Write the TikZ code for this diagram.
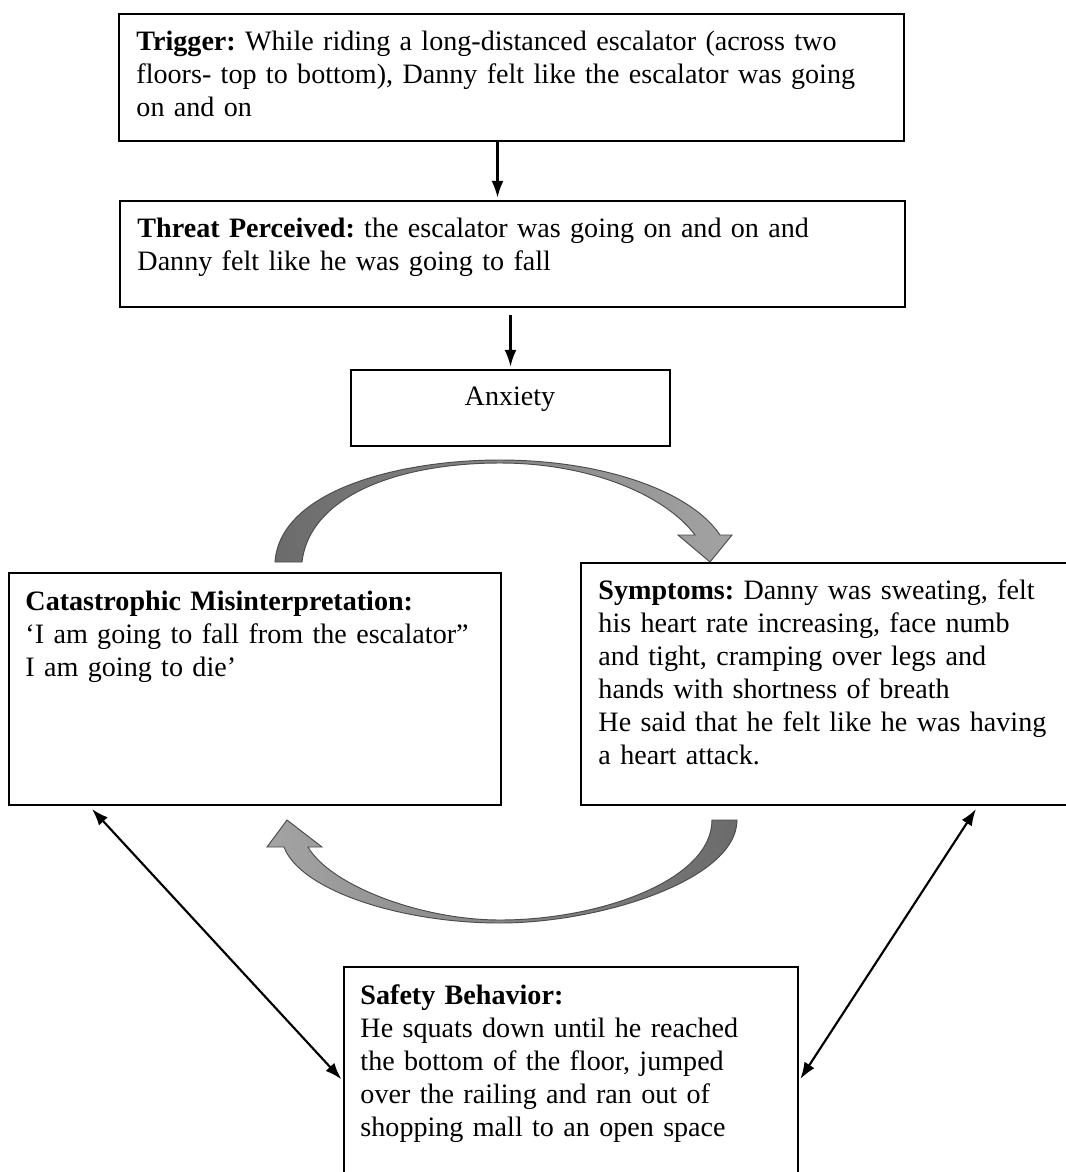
\documentclass[tikz,border=0pt]{standalone}
\usepackage{fontspec}
\setmainfont{Liberation Serif}
\usetikzlibrary{fit,arrows.meta}
\frenchspacing

\begin{document}
\begin{tikzpicture}[x=0.42pt,y=-0.42pt,shorten >=1pt,>={Latex[length=7pt,width=5pt]}]
  \tikzset{frame/.style={draw,rectangle,line width=0.85pt,inner sep=0pt}}
  \tikzset{txt/.style={inner sep=0pt,anchor=base west,align=left,text width=330pt,font=\fontsize{11.8pt}{13.9pt}\selectfont}}
  \tikzset{link/.style={line width=0.9pt}}
  \tikzset{fat/.style={draw=black!70,line width=0.4pt}}
  \useasboundingbox[fill=white] (0,0) rectangle (1065,1172);
  % boxes
  \node[frame,fit={(119,14) (904,141)}] (trig) {};
  \node[frame,fit={(120,201) (905,307)}] (threat) {};
  \node[frame,fit={(351,370) (670,446)}] (anx) {};
  \node[frame,fit={(9,573) (501,805)}] (cata) {};
  \node[frame,fit={(581,563) (1068,805)}] (symp) {};
  \node[frame,fit={(344,967) (798,1190)}] (safe) {};
  % texts
  \node[txt] (trigT) at (136,50) {\textbf{Trigger:} While riding a long-distanced escalator (across two\\floors- top to bottom), Danny felt like the escalator was going\\on and on};
  \node[txt] (threatT) at (137,237) {\textbf{Threat Perceived:} the escalator was going on and on and\\Danny felt like he was going to fall};
  \node[inner sep=0pt,anchor=base,font=\fontsize{11.8pt}{13.9pt}\selectfont] (anxT) at (510,405) {Anxiety};
  \node[txt] (cataT) at (25,610) {\textbf{Catastrophic Misinterpretation:}\\‘I am going to fall from the escalator”\\I am going to die’};
  \node[txt] (sympT) at (598,599) {\textbf{Symptoms:} Danny was sweating, felt\\his heart rate increasing, face numb\\and tight, cramping over legs and\\hands with shortness of breath\\He said that he felt like he was having\\a heart attack.};
  \node[txt] (safeT) at (360,1004) {\textbf{Safety Behavior:}\\He squats down until he reached\\the bottom of the floor, jumped\\over the railing and ran out of\\shopping mall to an open space};
  % straight links
  \draw[->,link] ([shift={(-14,0)}]trig.south) -- ([shift={(-14,0)}]trig.south |- threat.north);
  \draw[->,link,shorten <=3pt] (threat.south -| anx.north) -- (anx.north);
  \draw[<->,link] ([shift={(84,3)}]cata.south west) -- ([shift={(0,115)}]safe.north west);
  \draw[<->,link] ([shift={(396,3)}]symp.south west) -- ([shift={(0,115)}]safe.north east);
  % curved block arrows
  \draw[fat,left color=black!58,right color=black!36]
    (275,562) .. controls (280,490) and (400,460) .. (500,460)
    .. controls (600,460) and (690,490) .. (720,535)
    -- (732,535) -- (710,562) -- (678,535) -- (695,535)
    .. controls (665,495) and (590,463) .. (500,463)
    .. controls (400,463) and (310,495) .. (302,562) -- cycle;
  \draw[fat,left color=black!36,right color=black!58]
    (737,820) .. controls (737,880) and (600,923) .. (500,923)
    .. controls (400,923) and (300,890) .. (284,847)
    -- (267,847) -- (287,820) -- (322,847) -- (308,847)
    .. controls (330,885) and (420,920) .. (500,920)
    .. controls (600,920) and (712,880) .. (712,820) -- cycle;
\end{tikzpicture}
\end{document}
